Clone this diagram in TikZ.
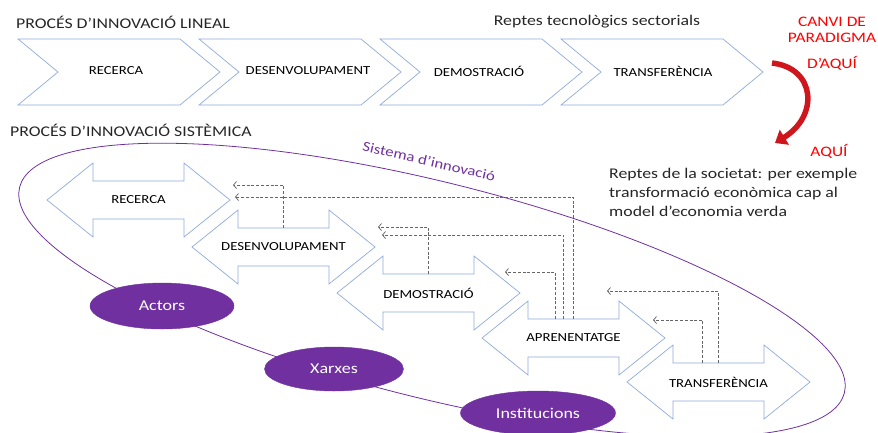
\documentclass[tikz,border=0pt]{standalone}
\usepackage{fontspec}
\setmainfont{Carlito}[FakeStretch=1.2]
\usetikzlibrary{arrows.meta,shapes.geometric}
\definecolor{blkline}{HTML}{8FAADC}
\definecolor{purp}{HTML}{7030A0}
\definecolor{dashgray}{HTML}{666666}
\definecolor{redtxt}{HTML}{FF0000}
\definecolor{redarr}{HTML}{D0161D}
\definecolor{txt}{HTML}{262626}
\newcommand\blockarrow[4]{%
  \draw[blk] (#2,#3) -- ++(46,-37) -- ++(0,18) -- ++(91,0) -- ++(0,-18) -- ++(46,37) -- ++(-46,37) -- ++(0,-18) -- ++(-91,0) -- ++(0,18) -- cycle;
  \node[lbl, minimum width=91pt, minimum height=38pt] (#1) at (#2+91.5,#3) {#4};
}
\newcommand\chevronbox[4]{%
  \draw[blk] (#2,39) -- ++(162,0) -- ++(40,33) -- ++(-40,33) -- ++(-162,0) -- ++(40,-33) -- cycle;
  \node[lbl] (#1) at (#3,71) {#4};
}
\begin{document}
\begin{tikzpicture}[x=1pt,y=-1pt,
  blk/.style={draw=blkline, fill=white, line width=0.7pt, line join=miter},
  lbl/.style={inner sep=0pt, font=\fontsize{12.3}{14}\selectfont, text=black},
  title/.style={inner sep=0pt, font=\fontsize{14.8}{17}\selectfont, text=txt},
  redt/.style={inner sep=0pt, font=\fontsize{14.5}{16}\selectfont, text=redtxt, align=center},
  ell/.style={ellipse, fill=purp, draw=purp, text=white, inner sep=0pt, font=\fontsize{15}{17}\selectfont},
  conn/.style={draw=dashgray, dash pattern=on 3pt off 1.8pt, line width=0.75pt, -{Straight Barb[length=3pt,width=7pt]}},
  redarrow/.style={draw=redarr, line width=5.5pt, -{Triangle[length=11pt,width=17pt]}}
]
\useasboundingbox (0,0) rectangle (878,432);
\clip (0,0) rectangle (878,432);

% linear process
\node[title, anchor=west] (lintitle) at (16,22) {PROCÉS D’INNOVACIÓ LINEAL};
\node[title] (reptes1) at (597,22) {Reptes tecnològics sectorials};
\chevronbox{c1}{18}{116}{RECERCA}
\chevronbox{c2}{199}{308}{DESENVOLUPAMENT}
\chevronbox{c3}{380}{479}{DEMOSTRACIÓ}
\chevronbox{c4}{561}{663}{TRANSFERÈNCIA}

% paradigm change
\node[redt] (canvi) at (832,30) {CANVI DE\\PARADIGMA};
\node[redt] (daqui) at (832,63) {D’AQUÍ};
\node[redt] (aqui) at (829,151) {AQUÍ};
\coordinate (ra) at (772,63);
\coordinate (rb) at (775,143);
\draw[redarrow] (ra) .. controls (816,68) and (819,116) .. (rb);

% systemic process
\node[title, anchor=west] (systitle) at (10,130) {PROCÉS D’INNOVACIÓ SISTÈMICA};
\draw[purp, line width=0.8pt, rotate around={-14:(432,290)}] (432,290) ellipse (425 and 108);
\node[inner sep=0pt, font=\fontsize{14}{16}\selectfont, text=purp, rotate=-13] (sist) at (429,161) {Sistema d’innovació};
\node[title, anchor=north west, align=left, font=\fontsize{14.8}{19}\selectfont] (reptes2) at (609,168) {Reptes de la societat: per exemple\\transformació econòmica cap al\\model d’economia verda};

\blockarrow{rec}{47}{200}{RECERCA}
\blockarrow{des}{192}{247}{DESENVOLUPAMENT}
\blockarrow{dem}{337}{293}{DEMOSTRACIÓ}
\blockarrow{apr}{482}{338}{APRENENTATGE}
\blockarrow{tra}{627}{382}{TRANSFERÈNCIA}

\node[ell, minimum width=144pt, minimum height=46pt] (act) at (162,306) {Actors};
\node[ell, minimum width=139pt, minimum height=44pt] (xar) at (334,369) {Xarxes};
\node[ell, minimum width=155pt, minimum height=44pt] (ins) at (538,413) {Institucions};

% feedback connectors
\coordinate (t1) at (233,185);
\coordinate (t2) at (378,227);
\coordinate (t3) at (235,197);
\coordinate (t4) at (382,235);
\coordinate (t5) at (505,272);
\coordinate (t6) at (607,291);
\coordinate (t7) at (653,320);
\draw[conn] (des.north) |- (t1);
\draw[conn] (dem.north) |- (t2);
\draw[conn] (apr.north) |- (t3);
\draw[conn] ([xshift=-10pt]apr.north) |- (t4);
\draw[conn] ([xshift=-18pt]apr.north) |- (t5);
\draw[conn] (tra.north) |- (t6);
\draw[conn] ([xshift=-16pt]tra.north) |- (t7);
\end{tikzpicture}
\end{document}
